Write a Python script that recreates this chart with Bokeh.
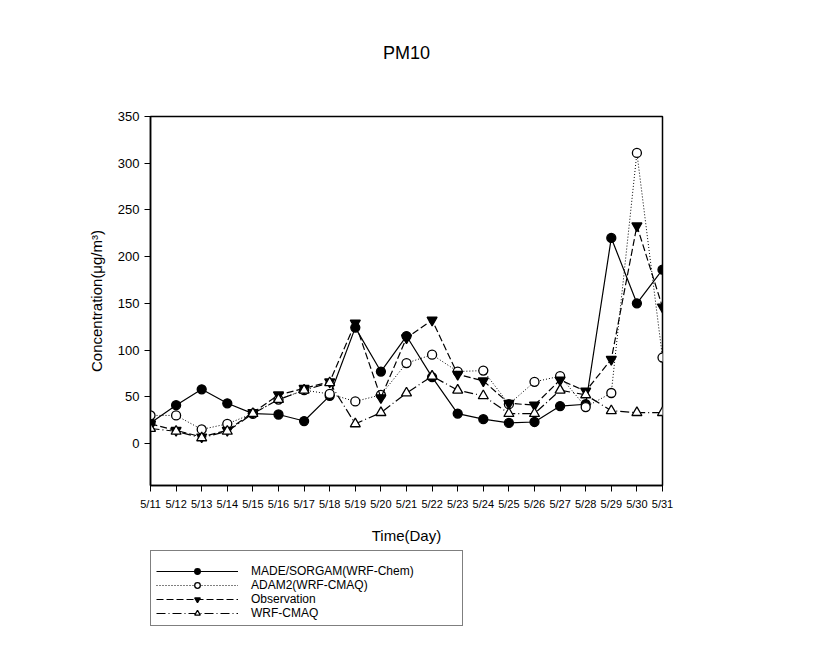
from bokeh.plotting import figure
from bokeh.models import FixedTicker, Legend, LegendItem, Range1d, Title
from bokeh.layouts import column
from bokeh.embed import file_html
from bokeh.resources import INLINE

days = ["5/11", "5/12", "5/13", "5/14", "5/15", "5/16", "5/17", "5/18", "5/19", "5/20",
        "5/21", "5/22", "5/23", "5/24", "5/25", "5/26", "5/27", "5/28", "5/29", "5/30", "5/31"]
made_sorgam = [22, 41, 58, 43, 32, 31, 24, 51, 124, 77, 115, 71, 32, 26, 22, 23, 40, 42, 220, 150, 186]
adam2 = [30, 30, 15, 21, 32, 47, 57, 53, 45, 52, 86, 95, 77, 78, 42, 66, 72, 39, 54, 311, 92]
observation = [21, 14, 7, 14, 33, 52, 59, 66, 129, 49, 113, 132, 74, 67, 43, 41, 68, 56, 90, 233, 146]
wrf_cmaq = [16, 13, 6, 13, 32, 47, 57, 65, 21, 33, 54, 72, 57, 51, 32, 32, 57, 52, 35, 33, 33]
y_ticks = [0, 50, 100, 150, 200, 250, 300, 350]
series_names = ["MADE/SORGAM(WRF-Chem)", "ADAM2(WRF-CMAQ)", "Observation", "WRF-CMAQ"]

x = list(range(len(days)))
FONT = "Liberation Sans"

p = figure(width=818, height=550, output_backend="svg", toolbar_location=None,
           x_range=Range1d(0, len(days) - 1), y_range=Range1d(-45, 350),
           min_border_left=149, min_border_right=156, min_border_top=116, min_border_bottom=65)
p.background_fill_color = "white"
p.border_fill_color = "white"
p.outline_line_color = "black"
p.outline_line_width = 1.5
p.xgrid.visible = False
p.ygrid.visible = False

p.title.text = "PM10"
p.title.align = "center"
p.title.text_font = FONT
p.title.text_font_size = "18px"
p.title.text_font_style = "normal"
p.title.text_color = "black"
p.title.standoff = 10
# empty spacer between the title and the plot frame
p.add_layout(Title(text=" ", text_font_size="10px", standoff=36), "above")

xa = p.xaxis[0]
xa.ticker = FixedTicker(ticks=x)
xa.major_label_overrides = {i: d for i, d in enumerate(days)}
xa.minor_tick_line_color = None
xa.major_tick_in = 0
xa.major_tick_out = 6
xa.major_label_standoff = 6
xa.major_label_text_font = "Liberation Sans Narrow, Liberation Sans"
xa.major_label_text_font_size = "11px"
xa.major_label_text_color = "black"
xa.axis_label = "Time(Day)"
xa.axis_label_text_font = FONT
xa.axis_label_text_font_size = "15px"
xa.axis_label_text_font_style = "normal"
xa.axis_label_text_color = "black"
xa.axis_label_standoff = 14
xa.axis_line_width = 1.5

ya = p.yaxis[0]
ya.ticker = FixedTicker(ticks=y_ticks)
ya.minor_tick_line_color = None
ya.major_tick_in = 0
ya.major_tick_out = 6
ya.major_label_standoff = 5
ya.major_label_text_font = FONT
ya.major_label_text_font_size = "13px"
ya.major_label_text_color = "black"
ya.axis_label = "Concentration(\u03bcg/m\u00b3)"
ya.axis_label_text_font = FONT
ya.axis_label_text_font_size = "15px"
ya.axis_label_text_font_style = "normal"
ya.axis_label_text_color = "black"
ya.axis_label_standoff = 10
ya.axis_line_width = 1.5

styles = [
    dict(dash="solid", lw=1.2, marker="circle", size=9, fill="black"),
    dict(dash="1 2", lw=1.0, marker="circle", size=9, fill="white"),
    dict(dash="7 3", lw=1.2, marker="inverted_triangle", size=10, fill="black"),
    dict(dash="9 3 1 3", lw=1.2, marker="triangle", size=10, fill="white"),
]
all_series = [made_sorgam, adam2, observation, wrf_cmaq]

for ys, st in zip(all_series, styles):
    p.line(x, ys, line_color="black", line_width=st["lw"], line_dash=st["dash"])
    p.scatter(x, ys, marker=st["marker"], size=st["size"], fill_color=st["fill"],
              line_color="black", line_width=1.3)

# legend panel below the chart (its glyphs use the same series, kept out of view)
q = figure(width=818, height=122, output_backend="svg", toolbar_location=None,
           x_range=Range1d(-100, -99), y_range=Range1d(-1000, -999),
           x_axis_location=None, y_axis_location=None,
           min_border_left=150, min_border_right=0, min_border_top=0, min_border_bottom=0)
q.outline_line_color = None
q.xgrid.visible = False
q.ygrid.visible = False
q.background_fill_color = "white"
q.border_fill_color = "white"

items = []
for name, ys, st in zip(series_names, all_series, styles):
    lr = q.line(x, ys, line_color="black", line_width=st["lw"], line_dash=st["dash"])
    mr = q.scatter(x, ys, marker=st["marker"], size=st["size"], fill_color=st["fill"],
                   line_color="black", line_width=1.3)
    items.append(LegendItem(label=name, renderers=[lr, mr]))

legend = Legend(items=items, location="top_left", orientation="vertical")
legend.title = " "
legend.title_text_font_size = "7px"
legend.title_standoff = 1
legend.padding = 5
legend.margin = 0
legend.spacing = 0
legend.glyph_width = 82
legend.glyph_height = 14
legend.label_height = 14
legend.label_width = 206
legend.label_standoff = 13
legend.label_text_font = FONT
legend.label_text_font_size = "12px"
legend.label_text_line_height = 0.9
legend.label_text_color = "black"
legend.border_line_color = "black"
legend.border_line_width = 1.5
legend.background_fill_color = "white"
legend.background_fill_alpha = 1
q.add_layout(legend, "center")

layout = column(p, q, spacing=0)
open("out.html", "w").write(file_html(layout, INLINE))
